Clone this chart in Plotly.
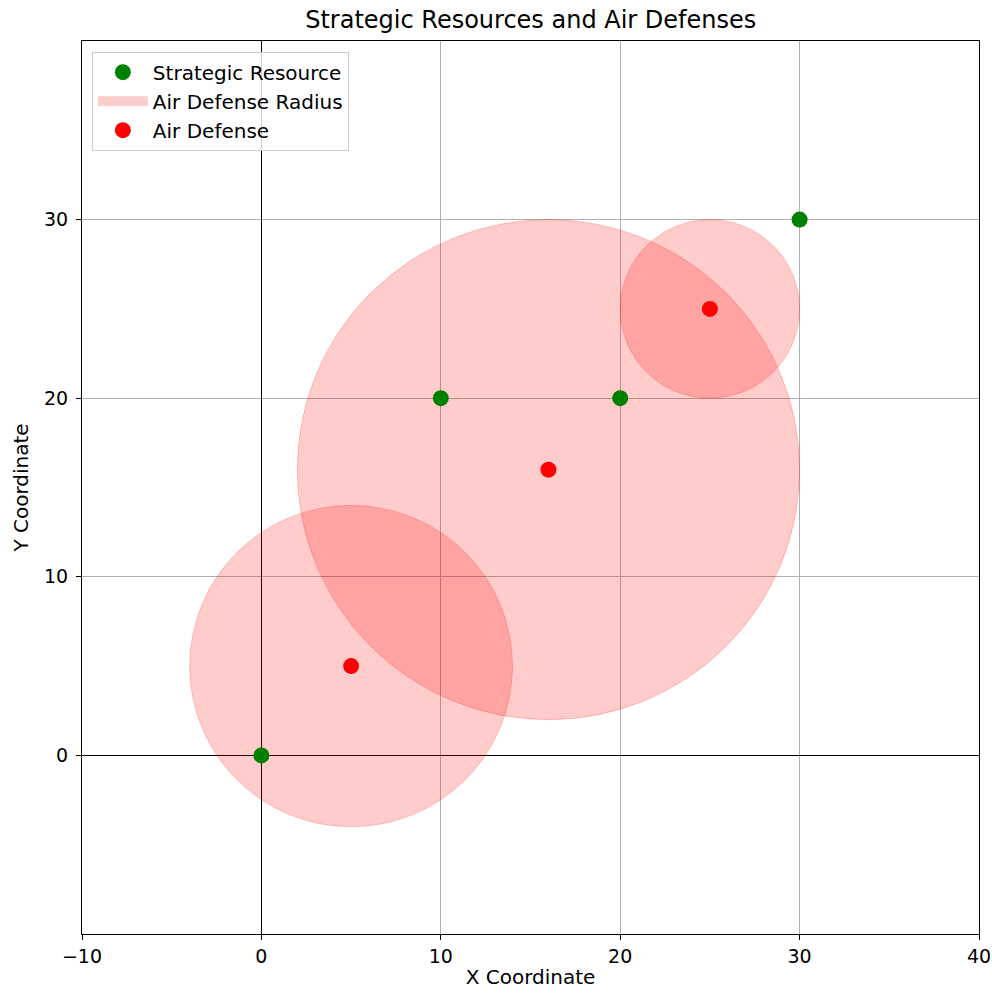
import plotly.graph_objects as go

# Data
resource_x = [0, 10, 20, 30]
resource_y = [0, 20, 20, 30]
defense_x = [5, 16, 25]
defense_y = [5, 16, 25]
defense_radius = [9, 14, 5]

x_ticks = [-10, 0, 10, 20, 30, 40]
x_tick_text = ["\u221210", "0", "10", "20", "30", "40"]
y_ticks = [0, 10, 20, 30]

FONT = "DejaVu Sans, sans-serif"

fig = go.Figure()

fig.add_trace(go.Scatter(
    x=resource_x, y=resource_y, mode="markers", name="Strategic Resource",
    marker=dict(color="green", size=16),
))
# legend proxy for radius patches
fig.add_trace(go.Scatter(
    x=[None], y=[None], mode="lines", name="Air Defense Radius",
    line=dict(color="rgba(255,0,0,0.2)", width=13),
))
fig.add_trace(go.Scatter(
    x=defense_x, y=defense_y, mode="markers", name="Air Defense",
    marker=dict(color="red", size=16),
))

for cx, cy, r in zip(defense_x, defense_y, defense_radius):
    fig.add_shape(
        type="circle", xref="x", yref="y",
        x0=cx - r, x1=cx + r, y0=cy - r, y1=cy + r,
        fillcolor="rgba(255,0,0,0.2)",
        line=dict(color="rgba(255,0,0,0.2)", width=1),
        layer="between",
    )

axis_common = dict(
    showgrid=True, gridcolor="#b0b0b0", gridwidth=1,
    zeroline=True, zerolinecolor="black", zerolinewidth=1,
    showline=True, linecolor="black", linewidth=1, mirror=True,
    ticks="outside", ticklen=5, tickcolor="black",
    tickfont=dict(size=19, color="black", family=FONT),
    automargin=False,
)

fig.update_xaxes(range=[-10, 40], tickvals=x_ticks, ticktext=x_tick_text,
                 title=dict(text="X Coordinate", font=dict(size=20, family=FONT, color="black"), standoff=4),
                 **axis_common)
fig.update_yaxes(range=[-10, 40], tickvals=y_ticks, ticklabelstandoff=4,
                 title=dict(text="Y Coordinate", font=dict(size=20, family=FONT, color="black"), standoff=10),
                 **axis_common)

fig.update_layout(
    width=992, height=997,
    margin=dict(l=82, r=13, t=41, b=63),
    plot_bgcolor="white", paper_bgcolor="white",
    font=dict(family=FONT, color="black"),
    title=dict(text="Strategic Resources and Air Defenses", x=0.535, xanchor="center",
               y=0.98, yanchor="middle", font=dict(size=24, family=FONT, color="black"),
               automargin=False),
    legend=dict(x=0.011, y=0.988, xanchor="left", yanchor="top",
                bgcolor="rgba(255,255,255,0.8)", bordercolor="#cccccc", borderwidth=1,
                font=dict(size=20, family=FONT, color="black"), tracegroupgap=0,
                itemwidth=50),
    showlegend=True,
)

fig.write_html("out.html", config={"displayModeBar": False},
               post_script="document.body.style.margin='0';")
